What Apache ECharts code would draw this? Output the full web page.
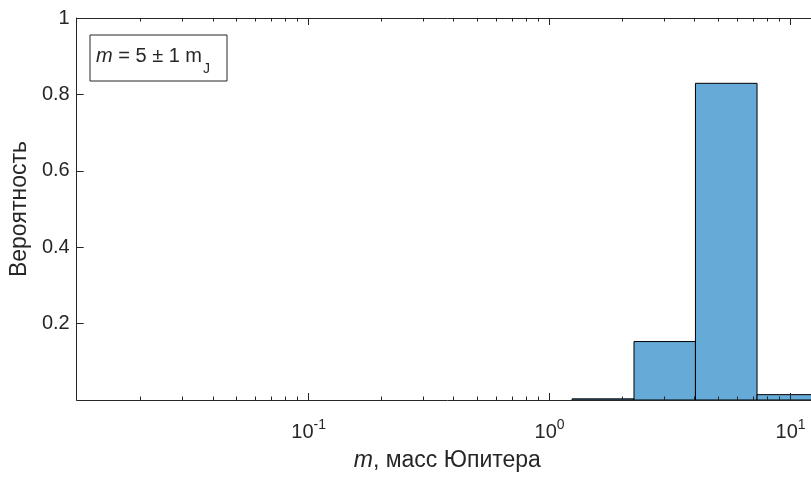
<!DOCTYPE html>
<html><head><meta charset="utf-8">
<script src="https://cdn.jsdelivr.net/npm/echarts@6/dist/echarts.min.js"></script>
<style>html,body{margin:0;padding:0;overflow:hidden;background:#fff}#c{width:840px;height:477px}</style>
</head><body><div id="c"></div>
<script>
// ---- data ----
const binEdges = [1.24, 2.24, 4.03, 7.26, 13.1];       // masses (Jupiter masses)
const probabilities = [0.003, 0.153, 0.829, 0.014];
const xRange = [0.0109, 13];
const xMajorTicks = [0.1, 1, 10];
const xTickLabels = ['{b|10}{sup|-1}', '{b|10}{sup|0}', '{b|10}{sup|1}'];
const xMinorTicks = [0.02,0.03,0.04,0.05,0.06,0.07,0.08,0.09,0.2,0.3,0.4,0.5,0.6,0.7,0.8,0.9,2,3,4,5,6,7,8,9];
const yTicks = [0.2, 0.4, 0.6, 0.8, 1];
const yTickLabels = ['0.2', '0.4', '0.6', '0.8', '1'];
const xTitle = '{i|m}{b|, масс Юпитера}';
const yTitle = 'Вероятность';
const annotation = '{i|m}{b| = 5 ± 1 m}{sub|J}';

const FONT = 'Liberation Sans, Arial, Helvetica, sans-serif';
const AX = '#262626';
const lg = v => Math.log10(v);

const histData = probabilities.map((p, i) => [lg(binEdges[i]), lg(binEdges[i + 1]), p]);

const xCommon = {
  type: 'value', gridIndex: 0, min: lg(xRange[0]), max: lg(xRange[1]),
  splitLine: {show: false}, z: 5
};
const lineStyle = {color: AX, width: 1};

const option = {
  animation: false,
  backgroundColor: '#fff',
  grid: {left: 73, top: 18, width: 745, height: 385, containLabel: false},
  xAxis: [
    Object.assign({}, xCommon, {
      position: 'bottom',
      axisLine: {show: true, onZero: false, lineStyle},
      axisTick: {show: true, inside: true, length: 7, lineStyle, customValues: xMajorTicks.map(lg)},
      axisLabel: {
        show: true, margin: 12, color: AX, fontFamily: FONT, fontSize: 20,
        customValues: xMajorTicks.map(lg),
        formatter: v => { const i = xMajorTicks.findIndex(t => Math.abs(lg(t) - v) < 1e-6); return i >= 0 ? xTickLabels[i] : ''; },
        rich: {
          b: {fontSize: 20, lineHeight: 30, verticalAlign: 'bottom', color: AX, fontFamily: FONT},
          sup: {fontSize: 14, lineHeight: 14, padding: [6, 0, 0, 0], verticalAlign: 'top', color: AX, fontFamily: FONT}
        }
      },
      name: xTitle, nameLocation: 'middle', nameGap: 49,
      nameTextStyle: {fontSize: 23, color: AX, fontFamily: FONT,
        rich: {
          i: {fontStyle: 'italic', fontSize: 23, color: AX, fontFamily: FONT},
          b: {fontSize: 23, color: AX, fontFamily: FONT}
        }}
    }),
    Object.assign({}, xCommon, {
      position: 'bottom',
      axisLine: {show: false, onZero: false},
      axisTick: {show: true, inside: true, length: 3.5, lineStyle, customValues: xMinorTicks.map(lg)},
      axisLabel: {show: false}
    }),
    Object.assign({}, xCommon, {
      position: 'top',
      axisLine: {show: true, onZero: false, lineStyle},
      axisTick: {show: true, inside: true, length: 7, lineStyle, customValues: xMajorTicks.map(lg)},
      axisLabel: {show: false}
    }),
    Object.assign({}, xCommon, {
      position: 'top',
      axisLine: {show: false, onZero: false},
      axisTick: {show: true, inside: true, length: 3.5, lineStyle, customValues: xMinorTicks.map(lg)},
      axisLabel: {show: false}
    })
  ],
  yAxis: [
    {
      type: 'value', position: 'left', min: 0, max: 1, z: 5,
      splitLine: {show: false},
      axisLine: {show: true, onZero: false, lineStyle},
      axisTick: {show: true, inside: true, length: 7, lineStyle, customValues: yTicks},
      axisLabel: {show: true, margin: 7, color: AX, fontFamily: FONT, fontSize: 20,
        customValues: yTicks,
        formatter: v => { const i = yTicks.findIndex(t => Math.abs(t - v) < 1e-6); return i >= 0 ? yTickLabels[i] : ''; }},
      name: yTitle, nameLocation: 'middle', nameGap: 36,
      nameTextStyle: {fontSize: 23, color: AX, fontFamily: FONT}
    },
    {
      type: 'value', position: 'right', min: 0, max: 1, z: 5,
      splitLine: {show: false},
      axisLine: {show: true, onZero: false, lineStyle},
      axisTick: {show: true, inside: true, length: 7, lineStyle, customValues: yTicks},
      axisLabel: {show: false}
    }
  ],
  series: [{
    type: 'custom',
    xAxisIndex: 0, yAxisIndex: 0,
    encode: {x: [0, 1], y: 2},
    data: histData,
    z: 2,
    renderItem: function (params, api) {
      const p0 = api.coord([api.value(0), api.value(2)]);
      const p1 = api.coord([api.value(1), 0]);
      return {
        type: 'rect',
        shape: {x: p0[0], y: p0[1], width: p1[0] - p0[0], height: p1[1] - p0[1]},
        style: {fill: 'rgb(102,170,215)', stroke: '#000', lineWidth: 1}
      };
    }
  }],
  graphic: [
    {type: 'rect', z: 10, shape: {x: 90, y: 35, width: 137, height: 46},
      style: {fill: '#fff', stroke: AX, lineWidth: 1}},
    {type: 'text', z: 11, x: 96, y: 46,
      style: {text: annotation, fill: AX, fontFamily: FONT, fontSize: 20,
        rich: {
          i: {fontStyle: 'italic', fontSize: 20, fontFamily: FONT, fill: AX, lineHeight: 20, verticalAlign: 'top'},
          b: {fontSize: 20, fontFamily: FONT, fill: AX, lineHeight: 20, verticalAlign: 'top'},
          sub: {fontSize: 14, fontFamily: FONT, fill: AX, lineHeight: 14, padding: [16, 0, 0, 1], verticalAlign: 'top'}
        }}}
  ]
};

const chart = echarts.init(document.getElementById('c'), null, {renderer: 'canvas'});
chart.setOption(option);
</script>
</body></html>
